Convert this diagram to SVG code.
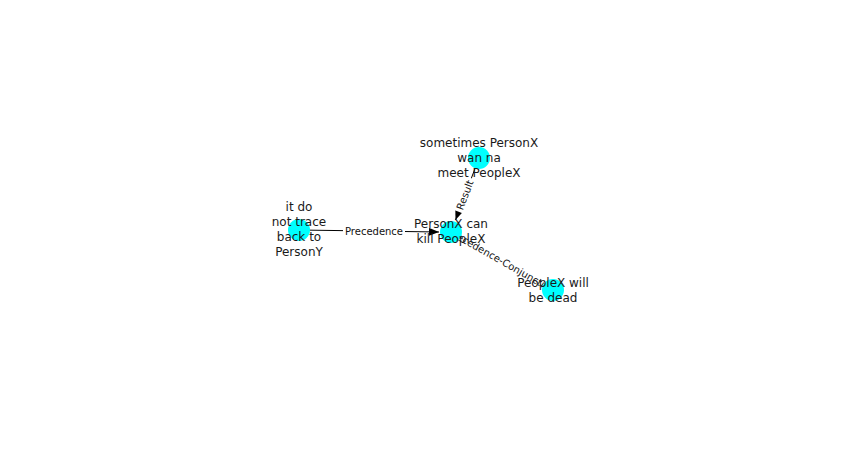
<svg xmlns="http://www.w3.org/2000/svg" width="851" height="449" viewBox="0 0 851 449">
  <style>
    .edge { stroke: #000; stroke-width: 1; fill: none; }
    .elabel { font-family: "DejaVu Sans", sans-serif; font-size: 10px; fill: #111; text-anchor: middle; dominant-baseline: central; }
    .lbg { fill: #fff; }
    .node circle { fill: #00ffff; }
    .node text { font-family: "DejaVu Sans", sans-serif; font-size: 12px; fill: #1a1a1a; text-anchor: middle; }
  </style>
  <defs>
    <marker id="arrow" viewBox="0 0 10 8" refX="10" refY="4" markerWidth="10" markerHeight="8" markerUnits="userSpaceOnUse" orient="auto">
      <path d="M0,0 L10,4 L0,8 Z" fill="#000"/>
    </marker>
  </defs>
  <rect width="851" height="449" fill="#fff"/>

  <g id="edges">
    <line class="edge" x1="299" y1="230" x2="439" y2="232" marker-end="url(#arrow)"/>
    <line class="edge" x1="479" y1="158" x2="455.5" y2="220" marker-end="url(#arrow)"/>
    <line class="edge" x1="451" y1="232" x2="542.5" y2="284" marker-end="url(#arrow)"/>

    <g transform="translate(374,231)">
      <rect class="lbg" x="-31" y="-7" width="62" height="14"/>
      <text class="elabel">Precedence</text>
    </g>
    <g transform="translate(465,195) rotate(-69.3)">
      <rect class="lbg" x="-18" y="-7" width="36" height="14"/>
      <text class="elabel">Result</text>
    </g>
    <g transform="translate(502,261) rotate(29.6)">
      <rect class="lbg" x="-62" y="-7" width="124" height="14"/>
      <text class="elabel">Precedence-Conjunction</text>
    </g>
  </g>

  <g id="node-it-do-not-trace" class="node">
    <circle cx="299" cy="230" r="11"/>
    <text x="299" y="211">it do</text>
    <text x="299" y="226">not trace</text>
    <text x="299" y="241">back to</text>
    <text x="299" y="256">PersonY</text>
  </g>
  <g id="node-sometimes" class="node">
    <circle cx="479" cy="158" r="11"/>
    <text x="479" y="147">sometimes PersonX</text>
    <text x="479" y="162">wan na</text>
    <text x="479" y="177">meet PeopleX</text>
  </g>
  <g id="node-personx-can-kill" class="node">
    <circle cx="451" cy="232" r="11"/>
    <text x="451" y="228">PersonX can</text>
    <text x="451" y="243">kill PeopleX</text>
  </g>
  <g id="node-peoplex-dead" class="node">
    <circle cx="553" cy="290" r="11"/>
    <text x="553" y="287">PeopleX will</text>
    <text x="553" y="302">be dead</text>
  </g>
</svg>
